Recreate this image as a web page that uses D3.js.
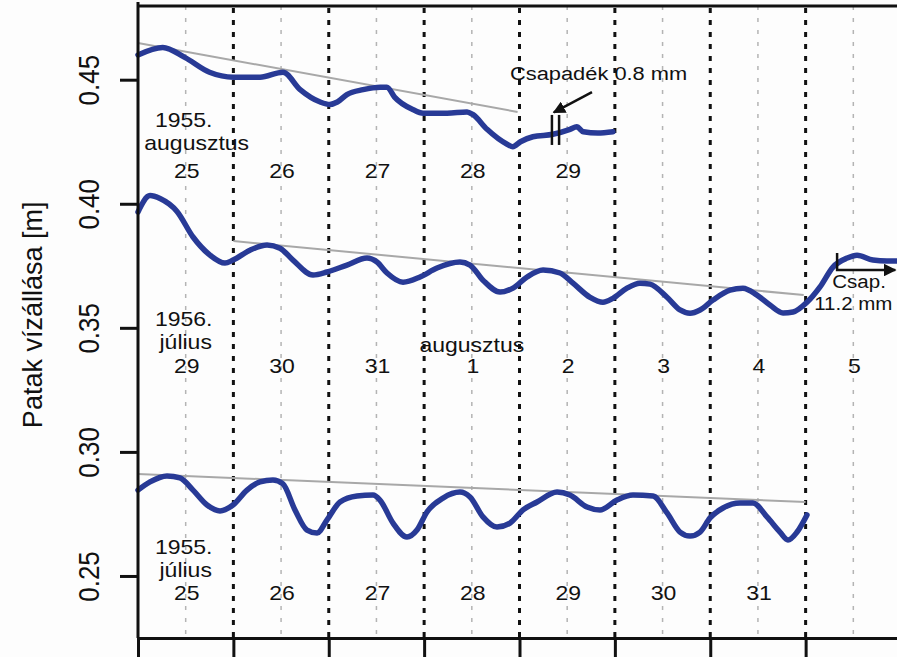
<!DOCTYPE html>
<meta charset="utf-8">
<style>
body { margin: 0; background: #fdfdfd; }
svg { display: block; font-family: "Liberation Sans", Arial, Helvetica, sans-serif; }
.level { fill: none; stroke: #283a96; stroke-width: 5.5px; stroke-linejoin: round; stroke-linecap: round; }
.trend { stroke: #a8a8a8; stroke-width: 2px; }
.daysep { stroke: #111; stroke-width: 3px; stroke-dasharray: 5,7; }
.midday { stroke: #b4b4b4; stroke-width: 1.5px; stroke-dasharray: 4,8; }
.axis path, .axis line { stroke: #111; stroke-width: 3px; }
.lbl { fill: #111; font-size: 20px; text-anchor: middle; }
.note { fill: #111; font-size: 19px; }
</style>
<body>
<script src="https://cdn.jsdelivr.net/npm/d3@7"></script>
<script>

// x in days from the left edge of the plot, y = water level [m]

// 1955. augusztus 25-29 (upper curve)
var augDays = [0, 0.26, 0.49, 0.75, 1.00, 1.28, 1.52, 1.70, 1.91, 2.01, 2.09, 2.19, 2.36, 2.54, 2.61, 2.69,
               2.88, 2.99, 3.24, 3.45, 3.51, 3.66, 3.87, 3.93, 4.01, 4.14, 4.35, 4.53, 4.60, 4.67, 4.82, 4.98];
var augLevel = [0.460, 0.463, 0.459, 0.453, 0.451, 0.451, 0.453, 0.446, 0.441, 0.440, 0.441, 0.444, 0.446, 0.447, 0.447, 0.443,
                0.438, 0.4365, 0.4365, 0.437, 0.436, 0.430, 0.424, 0.423, 0.425, 0.427, 0.428, 0.430, 0.431, 0.429, 0.4285, 0.429];

// 1956. július 29 - augusztus 5 (middle curve)
var julDays56 = [0, 0.126, 0.231, 0.409, 0.577, 0.755, 0.912, 0.996, 1.174, 1.353, 1.489, 1.625, 1.835, 1.982, 2.191, 2.401,
                 2.506, 2.611, 2.779, 2.957, 3.135, 3.376, 3.481, 3.617, 3.796, 3.932, 4.079, 4.247, 4.425, 4.561, 4.740, 4.875,
                 4.980, 5.127, 5.263, 5.368, 5.547, 5.683, 5.788, 5.893, 6.029, 6.207, 6.343, 6.490, 6.626, 6.763, 6.868, 7.014,
                 7.151, 7.287, 7.434, 7.539, 7.706, 7.853, 8.0];
var julLevel56 = [0.3967, 0.4033, 0.4021, 0.3969, 0.3866, 0.3793, 0.3761, 0.3773, 0.3813, 0.3834, 0.3821, 0.3773, 0.3713, 0.3725, 0.3753, 0.3781,
                  0.3765, 0.3721, 0.3684, 0.3705, 0.3741, 0.3765, 0.3753, 0.3692, 0.3644, 0.3660, 0.3705, 0.3733, 0.3721, 0.3680, 0.3623, 0.3603,
                  0.3619, 0.3660, 0.3680, 0.3676, 0.3623, 0.3572, 0.3559, 0.3572, 0.3612, 0.3652, 0.3660, 0.3632, 0.3592, 0.3560, 0.3564, 0.3603,
                  0.3665, 0.3745, 0.3781, 0.3793, 0.3773, 0.3769, 0.3769];

// 1955. július 25-31 (lower curve)
var julDays55 = [0, 0.126, 0.304, 0.440, 0.577, 0.724, 0.860, 0.996, 1.143, 1.279, 1.415, 1.520, 1.646, 1.772, 1.877, 1.982,
                 2.118, 2.296, 2.464, 2.537, 2.674, 2.820, 2.925, 3.030, 3.198, 3.376, 3.481, 3.617, 3.764, 3.900, 4.037, 4.184,
                 4.394, 4.529, 4.708, 4.844, 5.022, 5.190, 5.400, 5.547, 5.683, 5.788, 5.893, 5.998, 6.134, 6.312, 6.448, 6.595,
                 6.731, 6.815, 6.910, 7.014];
var julLevel55 = [0.2846, 0.2879, 0.2903, 0.2895, 0.2846, 0.2786, 0.2762, 0.2786, 0.2846, 0.2879, 0.2887, 0.2871, 0.2766, 0.2685, 0.2673, 0.2726,
                  0.2798, 0.2822, 0.2826, 0.2806, 0.2713, 0.2657, 0.2685, 0.2758, 0.2814, 0.2838, 0.2818, 0.2738, 0.2697, 0.2713, 0.2766, 0.2798,
                  0.2838, 0.2826, 0.2778, 0.2766, 0.2806, 0.2826, 0.2822, 0.2754, 0.2677, 0.2661, 0.2677, 0.2734, 0.2774, 0.2794, 0.2794, 0.2738,
                  0.2677, 0.2645, 0.2677, 0.2746];

// grey recession lines [day, level] start and end
var trendAug = [[0, 0.4648], [3.98, 0.4370]];
var trendJul56 = [[1.0, 0.3850], [6.98, 0.3632]];
var trendJul55 = [[0, 0.2911], [7.0, 0.2798]];

// day labels under each curve
var augLabels = ["25", "26", "27", "28", "29"];
var julLabels56 = ["29", "30", "31", "1", "2", "3", "4", "5"];
var julLabels55 = ["25", "26", "27", "28", "29", "30", "31"];
var yTicks = [0.25, 0.30, 0.35, 0.40, 0.45];

// set the dimensions and margins of the graph
var margin = {top: 6, left: 138},
    width = 763,
    height = 632;

var x = d3.scaleLinear().domain([0, 8]).range([0, width]);
var y = d3.scaleLinear().domain([0.225, 0.4797]).range([height, 0]);

var svg = d3.select("body").append("svg")
    .attr("width", 897)
    .attr("height", 657)
    .append("g")
    .attr("transform", "translate(" + margin.left + "," + margin.top + ")");

// grey midday lines and black dashed midnight lines
svg.selectAll(".midday")
    .data(d3.range(0.5, 8, 1))
    .enter().append("line")
    .attr("class", "midday")
    .attr("x1", function(d) { return x(d); }).attr("x2", function(d) { return x(d); })
    .attr("y1", 0).attr("y2", height);

svg.selectAll(".daysep")
    .data(d3.range(1, 8))
    .enter().append("line")
    .attr("class", "daysep")
    .attr("x1", function(d) { return x(d); }).attr("x2", function(d) { return x(d); })
    .attr("y1", 2).attr("y2", height);

// trend lines
[trendAug, trendJul56, trendJul55].forEach(function(t) {
    svg.append("line")
        .attr("class", "trend")
        .attr("x1", x(t[0][0])).attr("y1", y(t[0][1]))
        .attr("x2", x(t[1][0])).attr("y2", y(t[1][1]));
});

// the level curves
var valueline = d3.line()
    .x(function(d) { return x(d[0]); })
    .y(function(d) { return y(d[1]); })
    .curve(d3.curveMonotoneX);

[[augDays, augLevel], [julDays56, julLevel56], [julDays55, julLevel55]].forEach(function(s) {
    svg.append("path")
        .datum(d3.zip(s[0], s[1]))
        .attr("class", "level")
        .attr("d", valueline);
});

// axes
svg.append("g")
    .attr("class", "axis")
    .attr("transform", "translate(0," + height + ")")
    .call(d3.axisBottom(x).tickValues(d3.range(0, 9)).tickSize(24).tickSizeOuter(0).tickFormat(""));

var yAxis = svg.append("g")
    .attr("class", "axis")
    .call(d3.axisLeft(y).tickValues(yTicks).tickSize(18).tickSizeOuter(0).tickFormat(d3.format(".2f")));
yAxis.selectAll("text")
    .attr("x", 0).attr("dy", 0)
    .style("font-size", "26px").style("fill", "#111")
    .attr("text-anchor", "middle")
    .attr("transform", "translate(-39,0) scale(1.15,1) rotate(-90)");
yAxis.select(".domain").attr("d", "M0," + height + "V-4");

svg.append("line")
    .attr("x1", 0).attr("x2", width + 10)
    .attr("y1", 0).attr("y2", 0)
    .style("stroke", "#111").style("stroke-width", "3px");

svg.append("text")
    .attr("transform", "translate(-96," + (y(0.35) - 13) + ") rotate(-90)")
    .attr("text-anchor", "middle")
    .style("font-size", "27px").style("fill", "#111")
    .text("Patak vízállása [m]");

// labels
function addText(txt, dx, yy, cls) {
    svg.append("text")
        .attr("class", cls || "lbl")
        .attr("transform", "translate(" + dx + "," + yy + ") scale(1.15,1)")
        .text(txt);
}

function dayRow(labels, level) {
    labels.forEach(function(t, i) { addText(t, x(i + 0.5) + 1, y(level)); });
}

dayRow(augLabels, 0.4104);
addText("1955.", x(0.5) - 2, y(0.4104) - 51);
addText("augusztus", x(0.5) + 11, y(0.4104) - 28);

dayRow(julLabels56, 0.3318);
addText("1956.", x(0.5) - 2, y(0.3318) - 47);
addText("július", x(0.5), y(0.3318) - 24);
addText("augusztus", x(3.5), y(0.3318) - 21);

dayRow(julLabels55, 0.2403);
addText("1955.", x(0.5) - 2, y(0.2403) - 46);
addText("július", x(0.5), y(0.2403) - 23);

// rain marks
svg.append("defs").append("marker")
    .attr("id", "arr").attr("viewBox", "0 0 10 10").attr("refX", 9).attr("refY", 5)
    .attr("markerWidth", 5).attr("markerHeight", 5).attr("orient", "auto")
    .append("path").attr("d", "M0,0L10,5L0,10z").style("fill", "#111");

[4.34, 4.415].forEach(function(d) {
    svg.append("line")
        .attr("x1", x(d)).attr("x2", x(d))
        .attr("y1", y(0.4358)).attr("y2", y(0.4237))
        .style("stroke", "#111").style("stroke-width", "2.5px");
});
svg.append("line")
    .attr("x1", x(4.76)).attr("y1", y(0.4450))
    .attr("x2", x(4.36)).attr("y2", y(0.4368))
    .attr("marker-end", "url(#arr)")
    .style("stroke", "#111").style("stroke-width", "2.5px");
addText("Csapadék 0.8 mm", x(3.9), y(0.4497), "note");

svg.append("path")
    .attr("d", "M" + x(7.33) + "," + y(0.3802) + "V" + y(0.3733) + "H" + x(7.94))
    .attr("marker-end", "url(#arr)")
    .style("fill", "none").style("stroke", "#111").style("stroke-width", "2.5px");
svg.append("text").attr("class", "note").attr("text-anchor", "middle")
    .attr("transform", "translate(" + x(7.56) + "," + y(0.3660) + ") scale(1.08,1)")
    .text("Csap.");
svg.append("text").attr("class", "note").attr("text-anchor", "middle")
    .attr("transform", "translate(" + x(7.5) + "," + y(0.3572) + ") scale(1.08,1)")
    .text("11.2 mm");

</script>
</body>
